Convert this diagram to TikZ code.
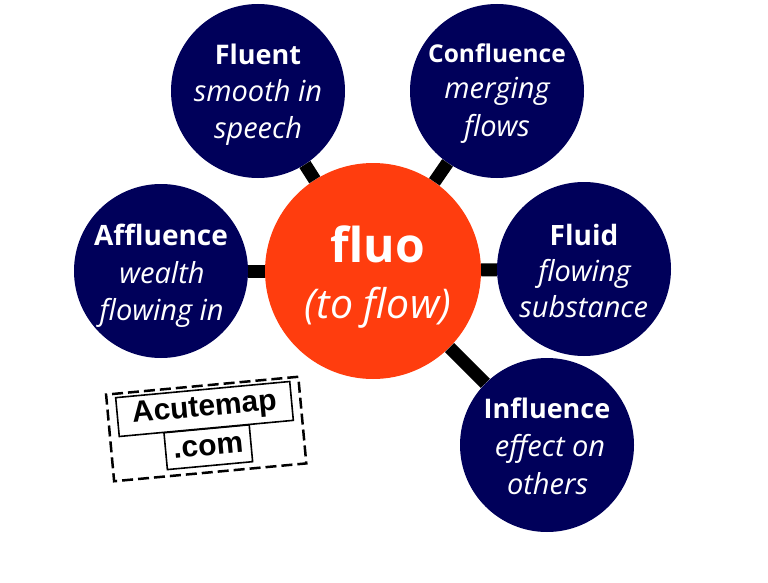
\documentclass[tikz,border=0pt]{standalone}
\usepackage{fontspec}
\setmainfont{Open Sans}
\newfontfamily\logofont{Liberation Sans}
\definecolor{navyc}{HTML}{00005A}
\definecolor{orangec}{HTML}{FF3D0E}
\tikzset{
  leaf/.style={circle,fill=navyc,minimum size=174pt,inner sep=0pt},
  hub/.style={circle,fill=orangec,minimum size=216pt,inner sep=0pt},
  leaftext/.style={text=white,inner sep=0pt,align=center,anchor=base},
  link/.style={draw=black,line width=13pt},
  logobox/.style={draw=black,line width=1.6pt,fill=white,rotate=5.3,inner sep=0pt,font=\logofont\bfseries\fontsize{30}{32}\selectfont},
  logoframe/.style={draw=black,line width=2.5pt,dash pattern=on 11pt off 5pt,rotate=5.3,inner sep=0pt,minimum width=193pt,minimum height=87pt}
}
\newcommand{\hdtxt}[2]{{\fontsize{#1}{#1}\selectfont\bfseries #2}}
\newcommand{\ittxt}[1]{{\fontsize{29}{29}\selectfont\itshape #1}}
\begin{document}
\begin{tikzpicture}[x=1pt,y=-1pt]
\useasboundingbox (0,0) rectangle (768,583);
\node[hub] (hub) at (373,271) {};
\node[leaf] (fluent) at (258,91) {};
\node[leaf] (confluence) at (497,91) {};
\node[leaf] (affluence) at (161,271) {};
\node[leaf] (fluid) at (584,269) {};
\node[leaf] (influence) at (547,445) {};
\foreach \n in {fluent,confluence,affluence,fluid,influence}
  \draw[link] (hub) -- (\n);
\node[leaftext] (fluoword) at (378,262) {\fontsize{48}{48}\selectfont\bfseries fluo};
\node[leaftext] (toflow) at (378,318) {\fontsize{41}{41}\selectfont\itshape (to flow)};
\node[leaftext] (t1a) at (258,64.3) {\hdtxt{27}{Fluent}};
\node[leaftext] (t1b) at (258,101.7) {\ittxt{smooth in}};
\node[leaftext] (t1c) at (258,138.5) {\ittxt{speech}};
\node[leaftext] (t2a) at (497,63) {\hdtxt{24.5}{Confluence}};
\node[leaftext] (t2b) at (497,99) {\ittxt{merging}};
\node[leaftext] (t2c) at (497,137) {\ittxt{flows}};
\node[leaftext] (t3a) at (161,245) {\hdtxt{28}{Affluence}};
\node[leaftext] (t3b) at (162,283) {\ittxt{wealth}};
\node[leaftext] (t3c) at (161.7,320.5) {\ittxt{flowing in}};
\node[leaftext] (t4a) at (584,245) {\hdtxt{28}{Fluid}};
\node[leaftext] (t4b) at (584.5,281) {\ittxt{flowing}};
\node[leaftext] (t4c) at (583.7,317) {\ittxt{substance}};
\node[leaftext] (t5a) at (547,418.3) {\hdtxt{27}{Influence}};
\node[leaftext] (t5b) at (550,456) {\ittxt{effect on}};
\node[leaftext] (t5c) at (547.5,494) {\ittxt{others}};
\node[logoframe] (frame) at (206.2,429) {};
\node[logobox,minimum width=85.6pt,minimum height=37pt] (com) at (208.3,447.2) {\raisebox{-5pt}{.com}};
\node[logobox,minimum width=174.8pt,minimum height=39pt] (acute) at (204.5,409) {\raisebox{-5pt}{Acutemap}};
\end{tikzpicture}
\end{document}
